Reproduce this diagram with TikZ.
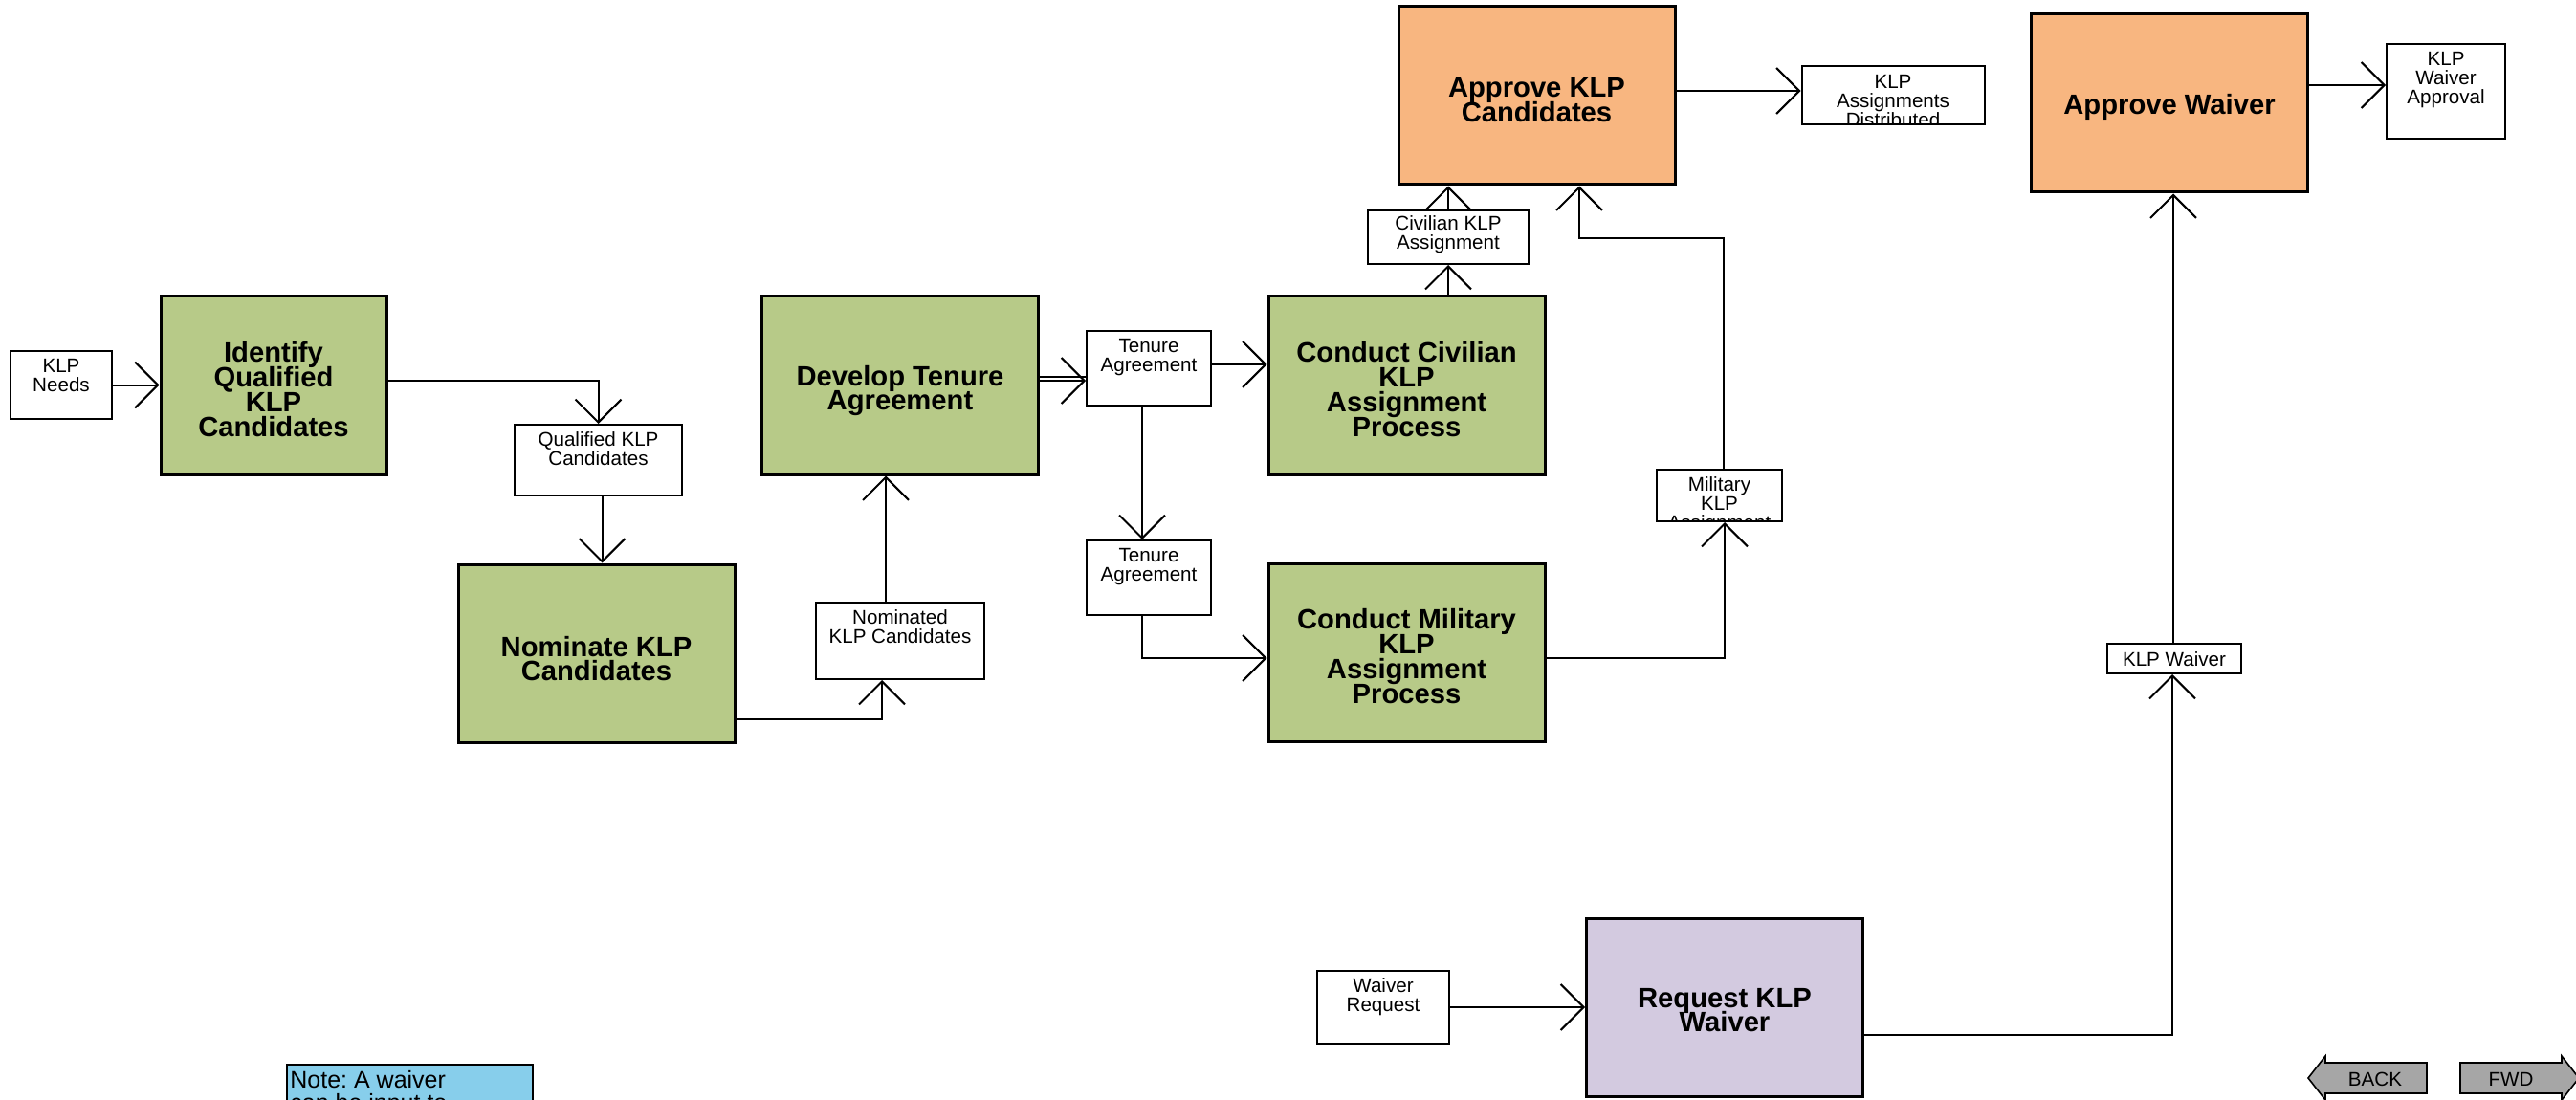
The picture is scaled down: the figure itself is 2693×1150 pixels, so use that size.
\documentclass[tikz,border=0pt]{standalone}
\usepackage{fontspec}
\setmainfont{Liberation Sans}
\usetikzlibrary{arrows.meta}
\definecolor{kgreen}{HTML}{B7CA88}
\definecolor{korange}{HTML}{F8B680}
\definecolor{klav}{HTML}{D3CAE0}
\definecolor{kblue}{HTML}{87CEEB}
\definecolor{kgray}{HTML}{A6A6A6}
\newcommand\mytightlines{\lineskiplimit=-20pt\relax\lineskip=0pt\relax}
\begin{document}
\begin{tikzpicture}[x=0.5pt,y=-0.5pt,
  mbox/.style={draw, line width=1.5pt, minimum width=144.5pt, minimum height=93pt, inner sep=0pt},
  mtxt/.style={inner sep=0pt, align=center,
    font=\fontsize{14.6}{12.9}\selectfont\bfseries\mytightlines},
  sbox/.style={draw, line width=1pt, fill=white, inner sep=0pt},
  stxt/.style={anchor=north, inner sep=0pt, minimum width=0pt, minimum height=0pt,
    draw=none, fill=none, align=center, font=\fontsize{10.3}{10}\selectfont},
  conn/.style={line width=1pt, -{Straight Barb[length=12pt,width=24pt]}},
  btn/.style={fill=kgray, draw=black, line width=0.8pt},
  btxt/.style={inner sep=0pt, font=\fontsize{10.3}{10}\selectfont}
]
\useasboundingbox (0,0) rectangle (2693,1150);
\clip (0,0) rectangle (2693,1150);

% main process boxes
\node[mbox, fill=kgreen, minimum width=118pt] (ident) at (286,403) {};
\node[mtxt] (identT) at ([yshift=-2pt]ident.center) {Identify\\Qualified\\KLP\\Candidates};
\node[mbox, fill=kgreen] (nom) at (623.5,683) {};
\node[mtxt] (nomT) at ([yshift=-2.75pt]nom.center) {Nominate KLP\\Candidates};
\node[mbox, fill=kgreen] (dev) at (941,403) {};
\node[mtxt] (devT) at ([yshift=-2.75pt]dev.center) {Develop Tenure\\Agreement};
\node[mbox, fill=kgreen] (civ) at (1470.5,403) {};
\node[mtxt] (civT) at ([yshift=-2pt]civ.center) {Conduct Civilian\\KLP\\Assignment\\Process};
\node[mbox, fill=kgreen] (mil) at (1470.5,682) {};
\node[mtxt] (milT) at ([yshift=-2pt]mil.center) {Conduct Military\\KLP\\Assignment\\Process};
\node[mbox, fill=korange] (appr) at (1606.5,100) {};
\node[mtxt] (apprT) at ([yshift=-2.5pt]appr.center) {Approve KLP\\Candidates};
\node[mbox, fill=korange] (apw) at (2268,108) {};
\node[mtxt] (apwT) at ([yshift=-2pt]apw.center) {Approve Waiver};
\node[mbox, fill=klav] (req) at (1803,1053) {};
\node[mtxt] (reqT) at ([yshift=-1.5pt]req.center) {Request KLP\\Waiver};

% data boxes
\node[sbox, minimum width=53pt, minimum height=35.5pt,
  path picture={\node[stxt] (needsT) at ([yshift=-3.5pt]path picture bounding box.north) {KLP\\Needs};}]
  (needs) at (64,402.5) {};
\node[sbox, minimum width=87.5pt, minimum height=37pt,
  path picture={\node[stxt] (qualT) at ([yshift=-3.5pt]path picture bounding box.north) {Qualified KLP\\Candidates};}]
  (qual) at (625.5,481) {};
\node[sbox, minimum width=88pt, minimum height=40pt,
  path picture={\node[stxt] (nomdT) at ([yshift=-3.5pt]path picture bounding box.north) {Nominated\\KLP Candidates};}]
  (nomd) at (941,670) {};
\node[sbox, minimum width=65pt, minimum height=39pt,
  path picture={\node[stxt] (ten1T) at ([yshift=-3.5pt]path picture bounding box.north) {Tenure\\Agreement};}]
  (ten1) at (1201,385) {};
\node[sbox, minimum width=65pt, minimum height=39pt,
  path picture={\node[stxt] (ten2T) at ([yshift=-3.5pt]path picture bounding box.north) {Tenure\\Agreement};}]
  (ten2) at (1201,604) {};
\node[sbox, minimum width=84pt, minimum height=28pt,
  path picture={\node[stxt] (civAT) at ([yshift=-2.5pt]path picture bounding box.north) {Civilian KLP\\Assignment};}]
  (civA) at (1514,248) {};
\node[sbox, minimum width=65.5pt, minimum height=27pt,
  path picture={\node[stxt] (milAT) at ([yshift=-3.5pt]path picture bounding box.north) {Military\\KLP\\Assignment};}]
  (milA) at (1797.5,518) {};
\node[sbox, minimum width=95.5pt, minimum height=30.5pt,
  path picture={\node[stxt] (distT) at ([yshift=-4pt]path picture bounding box.north) {KLP\\Assignments\\Distributed};}]
  (dist) at (1979,100) {};
\node[sbox, minimum width=62pt, minimum height=49.5pt,
  path picture={\node[stxt] (wappT) at ([yshift=-3.5pt]path picture bounding box.north) {KLP\\Waiver\\Approval};}]
  (wapp) at (2557,95.5) {};
\node[sbox, minimum width=70pt, minimum height=15.5pt,
  path picture={\node[stxt] (waivT) at ([yshift=-4pt]path picture bounding box.north) {KLP Waiver};}]
  (waiv) at (2273,688.5) {};
\node[sbox, minimum width=69pt, minimum height=38pt,
  path picture={\node[stxt] (wreqT) at ([yshift=-3.5pt]path picture bounding box.north) {Waiver\\Request};}]
  (wreq) at (1446,1053) {};

% note
\node[draw, line width=1pt, fill=kblue, minimum width=128.5pt, minimum height=60pt,
  anchor=north west, inner sep=0pt] (note) at (299,1112) {};
\node[anchor=north west, inner sep=0pt, align=left, font=\fontsize{12.5}{12}\selectfont\frenchspacing]
  (noteT) at ([xshift=2pt,yshift=-3.5pt]note.north west) {Note: A waiver\\can be input to};

% connectors
\draw[conn] (needs.east) -- (needs.east -| ident.west);
\draw[conn] ([yshift=2.5pt]ident.east) -| (qual.north);
\draw[conn] ([xshift=2pt]qual.south) -- ([xshift=2pt]qual.south |- nom.north);
\draw[conn] ([yshift=-34.5pt]nom.east) -| ([xshift=-9.5pt]nomd.south);
\draw[conn] ([xshift=-7.5pt]nomd.north) -- ([xshift=-7.5pt]nomd.north |- dev.south);
\draw[line width=0.8pt] ([yshift=4.5pt]dev.east) -- ([yshift=4.5pt]dev.east -| ten1.west);
\draw[conn] ([yshift=2.5pt]dev.east) -- ([yshift=2.5pt]dev.east -| ten1.west);
\draw[conn] ([yshift=2pt]ten1.east) -- ([yshift=2pt]ten1.east -| civ.west);
\draw[conn] ([xshift=-3.5pt]ten1.south) -- ([xshift=-3.5pt]ten2.north);
\draw[conn] ([xshift=-3.5pt]ten2.south) |- ([yshift=-3pt]mil.west);
\draw[conn] ([yshift=-3pt]mil.east) -| ([xshift=2.75pt]milA.south);
\draw[conn] ([xshift=2.25pt]milA.north) -- ++(0,-241) -| ([xshift=22.25pt]appr.south);
\draw[conn] (civA.south |- civ.north) -- (civA.south);
\draw[conn] (civA.north) -- (civA.north |- appr.south);
\draw[conn] ([yshift=2.5pt]appr.east) -- ([yshift=2.5pt]appr.east -| dist.west);
\draw[conn] ([yshift=9.5pt]apw.east) -- ([yshift=9.5pt]apw.east -| wapp.west);
\draw[conn] ([yshift=-14.5pt]req.east) -| ([xshift=-1pt]waiv.south);
\draw[conn] ([xshift=-0.5pt]waiv.north) -- ([xshift=-0.5pt]waiv.north |- apw.south);
\draw[conn] (wreq.east) -- (wreq.east -| req.west);

% navigation buttons
\draw[btn] (2413,1127) -- (2431,1104) -- (2431,1111) -- (2537,1111) -- (2537,1143)
  -- (2431,1143) -- (2431,1150) -- cycle;
\node[btxt] (back) at (2483,1128) {BACK};
\draw[btn] (2696,1127) -- (2678,1104) -- (2678,1111) -- (2572,1111) -- (2572,1143)
  -- (2678,1143) -- (2678,1150) -- cycle;
\node[btxt] (fwd) at (2625,1128) {FWD};
\end{tikzpicture}
\end{document}
